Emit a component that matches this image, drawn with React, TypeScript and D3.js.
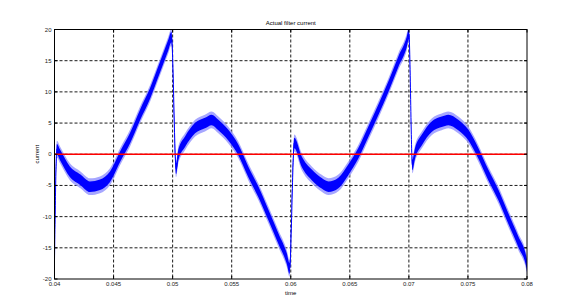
import React from "react";
import * as d3 from "d3";

const W = 564;
const H = 306;

const xTicks = [0.04, 0.045, 0.05, 0.055, 0.06, 0.065, 0.07, 0.075, 0.08];
const xTickLabels = ["0.04", "0.045", "0.05", "0.055", "0.06", "0.065", "0.07", "0.075", "0.08"];
const yTicks = [-20, -15, -10, -5, 0, 5, 10, 15, 20];
const yTickLabels = ["-20", "-15", "-10", "-5", "0", "5", "10", "15", "20"];

const time = [
  0.04, 0.0402, 0.04047, 0.0413, 0.0422, 0.043, 0.04385, 0.0447, 0.04555, 0.0464,
  0.04724, 0.0481, 0.0489, 0.04963, 0.0499, 0.0503, 0.05048, 0.05105, 0.0519, 0.05274,
  0.0533, 0.05387, 0.0547, 0.05556, 0.0564, 0.05725, 0.0581, 0.05895, 0.05966, 0.0599,
  0.0603, 0.06093, 0.06178, 0.06262, 0.0632, 0.06403, 0.06487, 0.06572, 0.06657, 0.06741,
  0.06826, 0.0691, 0.06982, 0.07, 0.0703, 0.07052, 0.0711, 0.07193, 0.07278, 0.07334,
  0.07418, 0.07503, 0.07588, 0.07672, 0.07757, 0.07842, 0.07926, 0.07997, 0.08,
];
const current = [
  -17.0, 0.8, -0.1, -2.8, -4.1, -5.2, -4.9, -3.6, -0.4, 2.6,
  6.3, 9.8, 13.8, 17.5, 18.8, -2.3, -0.1, 2.0, 4.2, 5.0,
  5.5, 4.7, 3.1, 0.7, -2.8, -6.0, -9.7, -13.5, -16.7, -18.3,
  1.8, -1.2, -3.3, -4.65, -5.2, -4.6, -2.5, 0.15, 3.6, 7.1,
  10.8, 14.8, 18.0, 19.3, -1.7, 0.15, 2.3, 4.4, 5.2, 5.5,
  4.7, 3.1, 0.15, -3.3, -6.5, -10.3, -14.0, -17.5, -18.0,
];
const reference = [0, 0];
const refTime = [0.04, 0.08];

const title = "Actual filter current";
const xLabel = "time";
const yLabel = "current";

export default function App() {
  const left = 54.5, right = 527, top = 29.5, bottom = 279;
  const x = d3.scaleLinear().domain([0.04, 0.08]).range([left, right]);
  const y = d3.scaleLinear().domain([-20, 20]).range([bottom, top]);
  const pts = time.map((t, i) => ({ t, v: current[i] }));

  const band = (hw: number) =>
    d3
      .area<{ t: number; v: number }>()
      .x((d) => x(d.t))
      .y0((d) => y(d.v - hw))
      .y1((d) => y(d.v + hw))
      .curve(d3.curveMonotoneX)(pts) || "";
  const line =
    d3
      .line<{ t: number; v: number }>()
      .x((d) => x(d.t))
      .y((d) => y(d.v))
      .curve(d3.curveMonotoneX)(pts) || "";
  const refLine =
    d3
      .line<number>()
      .x((d, i) => x(refTime[i]))
      .y((d) => y(d))(reference) || "";

  const font = "Arial, 'Liberation Sans', sans-serif";
  const tickLen = 3;

  return (
    <svg
      width={W}
      height={H}
      style={{ position: "absolute", left: 0, top: 0, background: "#fff" }}
      fontFamily={font}
    >
      <defs>
        <clipPath id="plotclip">
          <rect x={left} y={top} width={right - left} height={bottom - top} />
        </clipPath>
      </defs>
      <rect x={0} y={0} width={W} height={H} fill="#fff" />
      {/* grid */}
      <g stroke="#000" strokeWidth={0.9} strokeDasharray="3,2">
        {xTicks.slice(1, -1).map((t) => (
          <line key={"gx" + t} x1={x(t)} x2={x(t)} y1={top} y2={bottom} />
        ))}
        {yTicks.slice(1, -1).map((v) => (
          <line key={"gy" + v} x1={left} x2={right} y1={y(v)} y2={y(v)} />
        ))}
      </g>
      {/* signal */}
      <g clipPath="url(#plotclip)">
        <path d={band(1.35)} fill="#8a8aff" opacity={0.75} />
        <path d={band(0.85)} fill="#0000ff" />
        <path d={line} fill="none" stroke="#0000ff" strokeWidth={1} />
        <path d={refLine} fill="none" stroke="#ff0000" strokeWidth={1.3} />
      </g>
      {/* box */}
      <rect x={left} y={top} width={right - left} height={bottom - top} fill="none" stroke="#000" strokeWidth={1} />
      {/* ticks */}
      <g stroke="#000" strokeWidth={1}>
        {xTicks.map((t) => (
          <g key={"tx" + t}>
            <line x1={x(t)} x2={x(t)} y1={bottom} y2={bottom - tickLen} />
            <line x1={x(t)} x2={x(t)} y1={top} y2={top + tickLen} />
          </g>
        ))}
        {yTicks.map((v) => (
          <g key={"ty" + v}>
            <line x1={left} x2={left + tickLen} y1={y(v)} y2={y(v)} />
            <line x1={right} x2={right - tickLen} y1={y(v)} y2={y(v)} />
          </g>
        ))}
      </g>
      {/* tick labels */}
      <g fontSize={6} fill="#222">
        {xTicks.map((t, i) => (
          <text key={"lx" + t} x={x(t)} y={bottom + 7} textAnchor="middle">
            {xTickLabels[i]}
          </text>
        ))}
        {yTicks.map((v, i) => (
          <text key={"ly" + v} x={left - 3} y={y(v) + 2} textAnchor="end">
            {yTickLabels[i]}
          </text>
        ))}
      </g>
      <text x={(left + right) / 2} y={25} fontSize={6} textAnchor="middle" fill="#000">
        {title}
      </text>
      <text x={(left + right) / 2} y={295} fontSize={6} textAnchor="middle" fill="#000">
        {xLabel}
      </text>
      <text
        transform={`translate(39,${(top + bottom) / 2}) rotate(-90)`}
        fontSize={6}
        textAnchor="middle"
        fill="#000"
      >
        {yLabel}
      </text>
    </svg>
  );
}
